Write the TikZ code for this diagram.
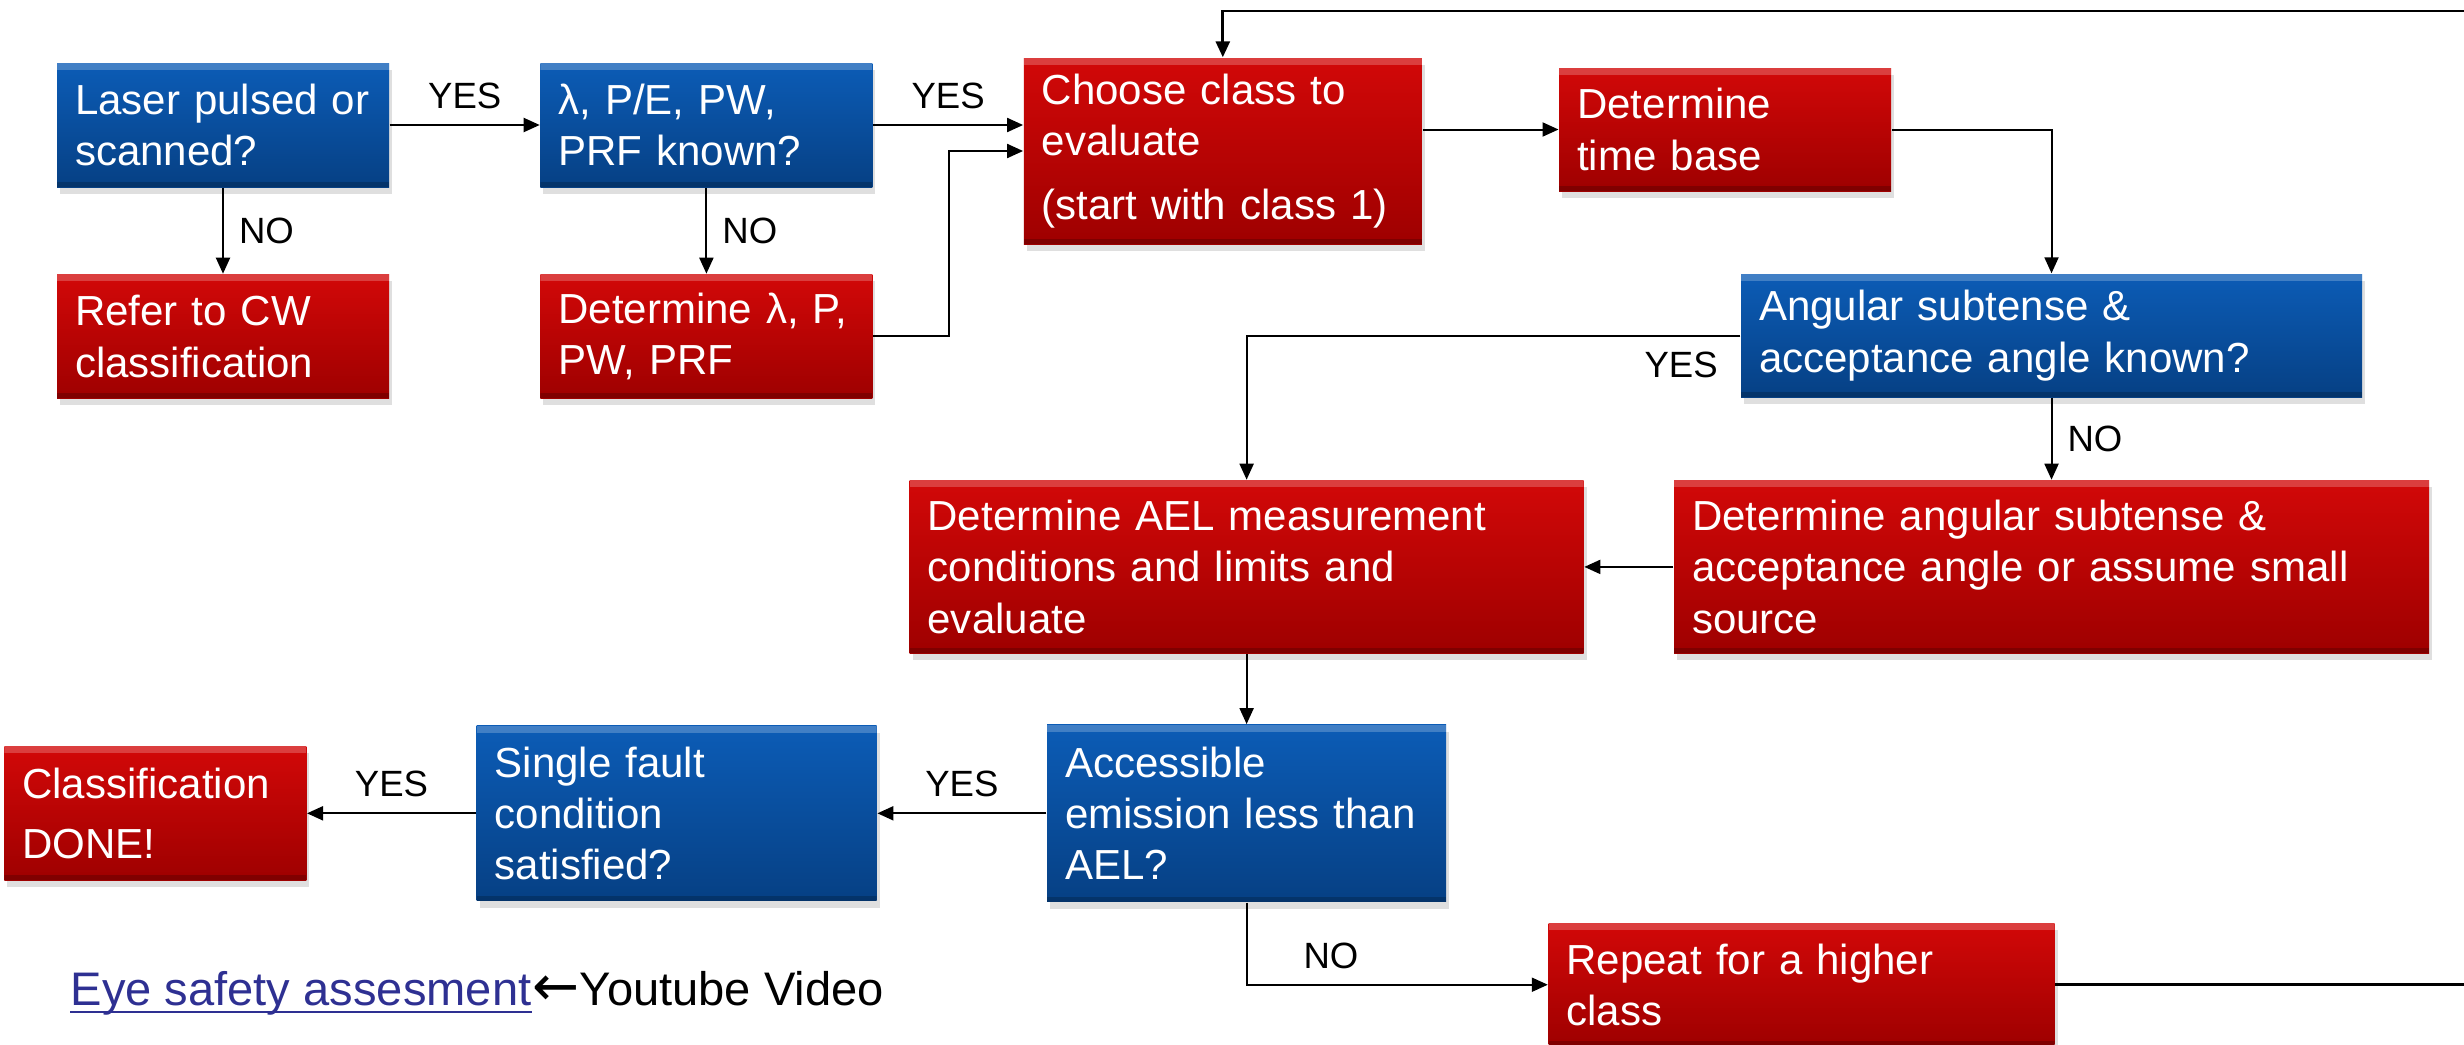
\documentclass[tikz,border=0pt]{standalone}
\usepackage{fontspec}
\setmainfont{Liberation Sans}
\newfontfamily\arrowfont{DejaVu Sans}
\usetikzlibrary{positioning,arrows.meta,shadows}

\definecolor{boxred}{RGB}{210,8,8}
\definecolor{boxreddark}{RGB}{158,0,0}
\definecolor{boxblue}{RGB}{12,92,182}
\definecolor{boxbluedark}{RGB}{6,64,132}
\definecolor{linkblue}{RGB}{46,48,146}

\begin{document}
\begin{tikzpicture}[
    x=0.1mm, y=-0.1mm,
    font=\fontsize{11.96pt}{14.6pt}\selectfont,
    box/.style={rectangle, text=white, align=left, inner xsep=1.8mm, inner ysep=1mm,
                drop shadow={opacity=0.25, shadow xshift=0.3mm, shadow yshift=-0.7mm},
                path picture={
                  \fill[white, opacity=0.22] (path picture bounding box.north west)
                    rectangle ([yshift=-0.7mm]path picture bounding box.north east);
                  \fill[black, opacity=0.2] (path picture bounding box.south west)
                    rectangle ([yshift=0.5mm]path picture bounding box.south east);}},
    redbox/.style={box, top color=boxred, bottom color=boxreddark},
    bluebox/.style={box, top color=boxblue, bottom color=boxbluedark},
    lbl/.style={font=\fontsize{10.4pt}{12pt}\selectfont, inner sep=1.5mm},
    arr/.style={-{Triangle[length=1.6mm, width=1.4mm]}, line width=0.2mm}
  ]
  \useasboundingbox (0,0) rectangle (2464,1044);

  % ---- pulse parameters ----
  \node[bluebox, text width=29.6mm, minimum height=12.4mm] (pulsed) at (223,125)
    {Laser pulsed or\\scanned?};
  \node[bluebox, text width=29.6mm, minimum height=12.4mm, right=15mm of pulsed] (known)
    {λ, P/E, PW,\\PRF known?};
  \node[redbox, text width=29.6mm, minimum height=12.4mm, below=8.6mm of pulsed] (cw)
    {Refer to CW\\classification};
  \node[redbox, text width=29.6mm, minimum height=12.4mm, below=8.6mm of known] (measure)
    {Determine λ, P,\\PW, PRF};
  \draw[arr] (pulsed) -- node[lbl, above] {YES} (known);
  \draw[arr] (pulsed) -- node[lbl, right] {NO} (cw);
  \draw[arr] (known) -- node[lbl, right] {NO} (measure);

  % ---- class loop ----
  \node[redbox, text width=36.2mm, minimum height=18.6mm, right=15mm of known,
        yshift=-2.6mm] (choose)
    {Choose class to\\evaluate\\[1.2mm](start with class 1)};
  \node[redbox, text width=29.6mm, minimum height=12.3mm, right=13.6mm of choose,
        yshift=2.15mm] (tbase)
    {Determine\\time base};
  \draw[arr] (known) -- node[lbl, above] {YES} (known -| choose.west);
  \draw[arr] (measure.east) -- ++(76,0) |- (choose.west);
  \draw[arr] (choose.east |- tbase) -- (tbase);

  % ---- angular subtense ----
  \node[bluebox, text width=58.5mm, minimum height=12.3mm] (angular) at (2051.5,335.5)
    {Angular subtense \&\\acceptance angle known?};
  \node[redbox, text width=71.9mm, minimum height=17.3mm, below=8.2mm of angular] (subtense)
    {Determine angular subtense \&\\acceptance angle or assume small\\source};
  \node[redbox, text width=63.8mm, minimum height=17.3mm, left=8.9mm of subtense] (ael)
    {Determine AEL measurement\\conditions and limits and\\evaluate};
  \draw[arr] (tbase) -| (angular);
  \draw[arr] (angular) -| node[lbl, below, pos=0.06] {YES} (ael);
  \draw[arr] (angular.south) -- node[lbl, right] {NO} (angular.south |- subtense.north);
  \draw[arr] (subtense) -- (ael);

  % ---- decision ----
  \node[bluebox, text width=36.3mm, minimum height=17.7mm, below=7mm of ael] (access)
    {Accessible\\emission less than\\AEL?};
  \node[bluebox, text width=36.4mm, minimum height=17.5mm, left=16.9mm of access] (fault)
    {Single fault\\condition\\satisfied?};
  \node[redbox, text width=26.6mm, minimum height=13.4mm, left=16.9mm of fault] (done)
    {Classification\\[0.9mm]DONE!};
  \node[redbox, text width=47mm, minimum height=12.3mm,
        below right=2mm and 10.1mm of access] (repeat)
    {Repeat for a higher\\class};
  \draw[arr] (ael) -- (access);
  \draw[arr] (access) -- node[lbl, above] {YES} (fault);
  \draw[arr] (fault) -- node[lbl, above] {YES} (done);
  \draw[arr] (access) |- node[lbl, above, pos=0.64] {NO} (repeat);
  \coordinate (loopR) at (2480,11);
  \draw[arr, line width=0.28mm] (repeat) -| (loopR) -| (choose);

  % ---- video link ----
  \node[anchor=base west, inner sep=0, text=linkblue,
        font=\fontsize{13.4pt}{16pt}\selectfont] (link) at (70,1005)
    {Eye safety assesment};
  \node[anchor=base west, inner sep=0, font=\fontsize{13.4pt}{16pt}\selectfont] (video)
    at (link.base east) {{\arrowfont\fontsize{16pt}{16pt}\selectfont ←}Youtube Video};
  \draw[linkblue, line width=0.25mm] ([yshift=-0.7mm]link.base west)
    -- ([yshift=-0.7mm]link.base east);

\end{tikzpicture}
\end{document}
